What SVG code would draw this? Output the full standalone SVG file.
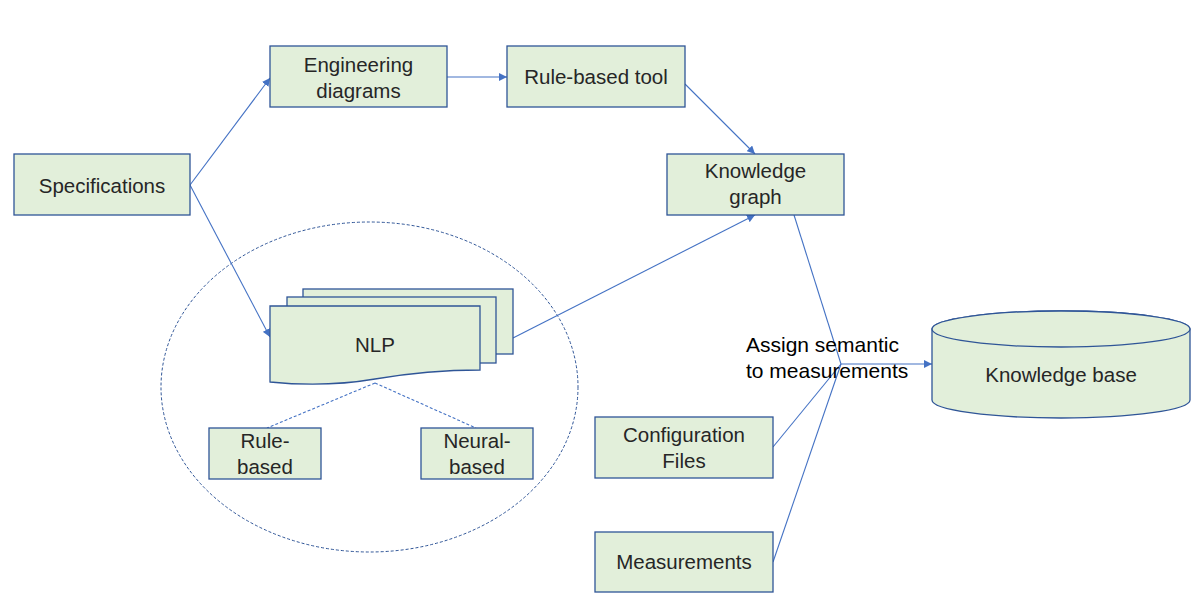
<svg xmlns="http://www.w3.org/2000/svg" width="1197" height="598" viewBox="0 0 1197 598">
<defs>
<style>
.box{fill:#E2EFDA;stroke:#2F5597;stroke-width:1.3}
.t{font-family:"Liberation Sans",Arial,sans-serif;font-size:20.5px;fill:#262626;text-anchor:middle}
.lbl{font-family:"Liberation Sans",Arial,sans-serif;font-size:21px;fill:#000}
.c{fill:none;stroke:#4472C4;stroke-width:1.1}
.d{fill:none;stroke:#4472C4;stroke-width:1.1;stroke-dasharray:3 2}
</style>
<marker id="ah" viewBox="0 0 10 10" refX="10" refY="5" markerWidth="8" markerHeight="8" markerUnits="userSpaceOnUse" orient="auto">
<path d="M0,0 L10,5 L0,10 Z" fill="#4472C4"/>
</marker>
</defs>
<rect width="1197" height="598" fill="#ffffff"/>

<g id="nlp-group">
<ellipse cx="369.5" cy="387" rx="208.5" ry="165" fill="none" stroke="#2F5597" stroke-width="1" stroke-dasharray="3 2"/>
</g>

<g id="connectors">
<line class="c" x1="190" y1="185" x2="270" y2="78" marker-end="url(#ah)"/>
<line class="c" x1="190" y1="185" x2="270" y2="337" marker-end="url(#ah)"/>
<line class="c" x1="447" y1="77" x2="507" y2="77" marker-end="url(#ah)"/>
<line class="c" x1="685" y1="84" x2="755" y2="154" marker-end="url(#ah)"/>
<line class="c" x1="513" y1="338" x2="755" y2="215" marker-end="url(#ah)"/>
<line class="c" x1="794" y1="215" x2="841" y2="364"/>
<line class="c" x1="773" y1="447" x2="841" y2="364"/>
<line class="c" x1="773" y1="562" x2="841" y2="364"/>
<line class="c" x1="841" y1="364" x2="932" y2="364" marker-end="url(#ah)"/>
<line class="d" x1="375" y1="383" x2="267" y2="428"/>
<line class="d" x1="375" y1="383" x2="476" y2="428"/>
</g>

<g id="specifications">
<rect class="box" x="14" y="154" width="176" height="61"/>
<text class="t" x="102" y="193">Specifications</text>
</g>

<g id="engineering-diagrams">
<rect class="box" x="270" y="46" width="177" height="61"/>
<text class="t" x="358.5" y="72">Engineering</text>
<text class="t" x="358.5" y="98">diagrams</text>
</g>

<g id="rule-based-tool">
<rect class="box" x="507" y="46" width="178" height="61"/>
<text class="t" x="596" y="84">Rule-based tool</text>
</g>

<g id="knowledge-graph">
<rect class="box" x="667" y="154" width="177" height="61"/>
<text class="t" x="755.5" y="178">Knowledge</text>
<text class="t" x="755.5" y="204">graph</text>
</g>

<g id="nlp">
<rect class="box" x="303" y="289" width="210" height="65"/>
<rect class="box" x="287" y="297" width="209" height="66"/>
<path class="box" d="M270,306 H480 V370 C440,370 410,373 375,379 C340,385 300,385 270,382 Z"/>
<text class="t" x="375" y="352">NLP</text>
</g>

<g id="rule-based">
<rect class="box" x="209" y="428" width="112" height="51"/>
<text class="t" x="265" y="448">Rule-</text>
<text class="t" x="265" y="474">based</text>
</g>

<g id="neural-based">
<rect class="box" x="421" y="428" width="112" height="51"/>
<text class="t" x="477" y="448">Neural-</text>
<text class="t" x="477" y="474">based</text>
</g>

<g id="configuration-files">
<rect class="box" x="595" y="417" width="178" height="61"/>
<text class="t" x="684" y="442">Configuration</text>
<text class="t" x="684" y="468">Files</text>
</g>

<g id="measurements">
<rect class="box" x="595" y="532" width="178" height="60"/>
<text class="t" x="684" y="569">Measurements</text>
</g>

<g id="knowledge-base">
<path class="box" d="M932,329 V400 A129,18 0 0 0 1190,400 V329 A129,18 0 0 0 932,329 Z"/>
<ellipse class="box" cx="1061" cy="329" rx="129" ry="18"/>
<text class="t" x="1061" y="382">Knowledge base</text>
</g>

<g id="label">
<text class="lbl" x="746" y="352">Assign semantic</text>
<text class="lbl" x="746" y="378">to measurements</text>
</g>
</svg>
